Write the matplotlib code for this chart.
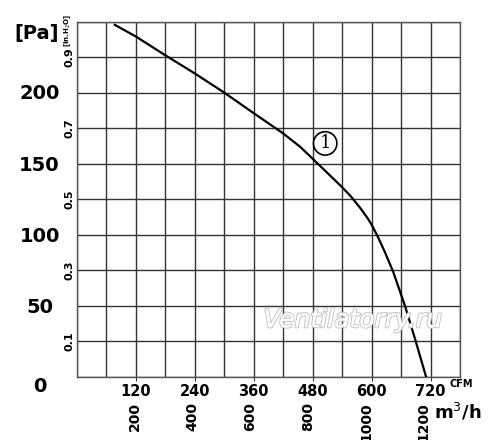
import matplotlib
matplotlib.use("Agg")
import matplotlib.pyplot as plt
import matplotlib.patheffects as pe

# -------------------------
# Data
# -------------------------
flow_cfm = [77, 120, 179, 240, 300, 360, 420, 454, 479, 539, 557, 578, 592,
            600, 612, 627, 644, 668, 690, 711]
press_inh2o = [0.992, 0.959, 0.907, 0.855, 0.801, 0.743, 0.686, 0.649, 0.616,
               0.536, 0.510, 0.474, 0.447, 0.429, 0.397, 0.352, 0.296, 0.20,
               0.10, 0.0]

cfm_ticks = [120, 240, 360, 480, 600, 720]
m3h_ticks = [200, 400, 600, 800, 1000, 1200]
pa_ticks = [0, 50, 100, 150, 200]
inh2o_labels = [0.1, 0.3, 0.5, 0.7, 0.9]

CFM_TO_M3H = 1.699
INH2O_TO_PA = 249.0

plt.rcParams["font.family"] = ["DejaVu Sans"]

fig = plt.figure(figsize=(5, 4.4), dpi=100)
ax = fig.add_axes([0.154, 0.1432, 0.766, 0.8068])

ax.set_xlim(0, 780)
ax.set_ylim(0, 1.0)

# grid every 60 CFM / 0.1 inH2O
ax.set_xticks([i * 60 for i in range(14)], minor=True)
ax.set_yticks([i * 0.1 for i in range(11)], minor=True)
ax.grid(True, which="both", color="#333333", linewidth=1.0)
ax.tick_params(which="minor", length=0)
for s in ax.spines.values():
    s.set_color("#555555")
    s.set_linewidth(1.0)

ax.set_xticks(cfm_ticks)
ax.set_xticklabels([str(v) for v in cfm_ticks], fontsize=10.5, fontweight="bold")
ax.tick_params(axis="x", which="major", length=3, pad=2, color="#333333")

ax.set_yticks(inh2o_labels)
ax.set_yticklabels([f"{v:.1f}" for v in inh2o_labels], rotation=90,
                   fontsize=8, fontweight="bold", va="center")
ax.tick_params(axis="y", which="major", length=0, pad=2)

# curve
ax.plot(flow_cfm, press_inh2o, color="black", linewidth=1.6, zorder=5)

# Pa axis on the left
pa_ax = ax.secondary_yaxis("left", functions=(lambda v: v * INH2O_TO_PA,
                                              lambda v: v / INH2O_TO_PA))
pa_ax.set_yticks(pa_ticks)
pa_ax.set_yticklabels([str(v) for v in pa_ticks], fontsize=14, fontweight="bold")
pa_ax.tick_params(axis="y", length=0, pad=27)
pa_ax.spines["left"].set_visible(False)
for lbl in pa_ax.get_yticklabels():
    lbl.set_ha("center")
pa_ax.get_yticklabels()[0].set_va("top")

# m3/h axis at the bottom
m3_ax = ax.secondary_xaxis("bottom", functions=(lambda v: v * CFM_TO_M3H,
                                                lambda v: v / CFM_TO_M3H))
m3_ax.set_xticks(m3h_ticks)
m3_ax.set_xticklabels([str(v) for v in m3h_ticks], rotation=90,
                      fontsize=10, fontweight="bold")
m3_ax.tick_params(axis="x", length=0, pad=18)
m3_ax.spines["bottom"].set_visible(False)

# unit labels
fig.text(37 / 500, 1 - 33 / 440, "[Pa]", fontsize=14, fontweight="bold",
         ha="center", va="center")
fig.text(68 / 500, 1 - 31 / 440, "[in.H$_2$O]", fontsize=5, fontweight="bold",
         rotation=90, ha="center", va="center")
fig.text(461 / 500, 1 - 384 / 440, "CFM", fontsize=7, fontweight="bold",
         ha="center", va="center")
fig.text(458 / 500, 1 - 412 / 440, "m$^3$/h", fontsize=13, fontweight="bold",
         ha="center", va="center")

# curve label
ax.text(0.648, 0.658, "1", transform=ax.transAxes, fontsize=13,
        family="DejaVu Serif", ha="center", va="center", zorder=6,
        bbox=dict(boxstyle="circle,pad=0.15", fc="white", ec="black", lw=1.2))

# watermark
ax.text(0.72, 0.16, "Ventilatorry.ru", transform=ax.transAxes, fontsize=18,
        style="italic", color="white", ha="center", va="center", zorder=7,
        family="DejaVu Sans",
        path_effects=[pe.withStroke(linewidth=1.6, foreground="#c4c4c4"),
                      pe.Normal()])

fig.savefig("out.png", dpi=100)
